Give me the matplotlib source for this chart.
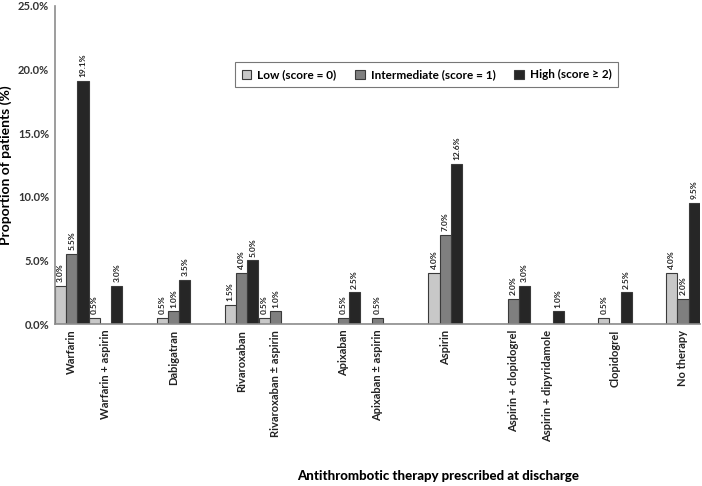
import numpy as np
import matplotlib
matplotlib.use("Agg")
import matplotlib.pyplot as plt

# blank entries are empty spacer slots on the category axis
categories = ["Warfarin", "Warfarin + aspirin", "", "Dabigatran", "",
              "Rivaroxaban", "Rivaroxaban \u00b1 aspirin", "", "Apixaban",
              "Apixaban \u00b1 aspirin", "", "Aspirin", "", "Aspirin + clopidogrel",
              "Aspirin + dipyridamole", "", "Clopidogrel", "", "No therapy"]
low = [3.0, 0.5, None, 0.5, None, 1.5, 0.5, None, None, None, None, 4.0,
       None, None, None, None, 0.5, None, 4.0]
intermediate = [5.5, None, None, 1.0, None, 4.0, 1.0, None, 0.5, 0.5, None, 7.0,
                None, 2.0, None, None, None, None, 2.0]
high = [19.1, 3.0, None, 3.5, None, 5.0, None, None, 2.5, None, None, 12.6,
        None, 3.0, 1.0, None, 2.5, None, 9.5]
series_names = ["Low (score = 0)", "Intermediate (score = 1)", "High (score \u2265 2)"]
colors = ["#c8c8c8", "#7f7f7f", "#262626"]

plt.rcParams["font.family"] = ["Lato", "DejaVu Sans"]
plt.rcParams["font.weight"] = "bold"

fig = plt.figure(figsize=(7.02, 4.86), dpi=100)
ax = fig.add_axes([0.078, 0.333, 0.919, 0.655])

x = np.arange(len(categories))
width = 0.33
for k, (vals, name, col) in enumerate(zip([low, intermediate, high], series_names, colors)):
    v = np.array([np.nan if a is None else a for a in vals], dtype=float)
    pos = x + (k - 1) * width
    ax.bar(pos, np.nan_to_num(v), width, color=col, edgecolor="#3a3a3a",
           linewidth=0.8, label=name)
    for p, val in zip(pos, v):
        if not np.isnan(val):
            ax.text(p, val + 0.3, f"{val:.1f}%", rotation=90, ha="center", va="bottom",
                    fontsize=6, fontweight="bold", color="#222222")

ax.set_xlim(-0.5, len(categories) - 0.5)
ax.set_ylim(0, 25)
ax.set_yticks(np.arange(0, 25.1, 5))
ax.set_yticklabels([f"{t:.1f}%" for t in np.arange(0, 25.1, 5)], fontsize=8,
                   fontweight="bold", color="#333333")
ax.set_xticks(x)
ax.set_xticklabels(categories, rotation=90, fontsize=8, fontweight="bold", color="#222222")
ax.tick_params(axis="both", length=0, pad=4)
for s in ["top", "right"]:
    ax.spines[s].set_visible(False)
for s in ["left", "bottom"]:
    ax.spines[s].set_color("#8c8c8c")
    ax.spines[s].set_linewidth(1.2)

ax.set_ylabel("Proportion of patients (%)", fontsize=10, fontweight="bold")
ax.yaxis.set_label_coords(-0.066, 0.5)
fig.text(0.624, 0.012, "Antithrombotic therapy prescribed at discharge", ha="center",
         va="baseline", fontsize=9.5, fontweight="black")

leg = ax.legend(loc="upper left", bbox_to_anchor=(0.270, 0.842), ncol=3, fontsize=8.5,
                frameon=True, fancybox=False, edgecolor="#555555", handlelength=0.8,
                handleheight=0.8, handletextpad=0.5, columnspacing=1.6, borderpad=0.6)
leg.get_frame().set_linewidth(0.8)
for t in leg.get_texts():
    t.set_fontweight("bold")

fig.savefig("out.png", dpi=100)
